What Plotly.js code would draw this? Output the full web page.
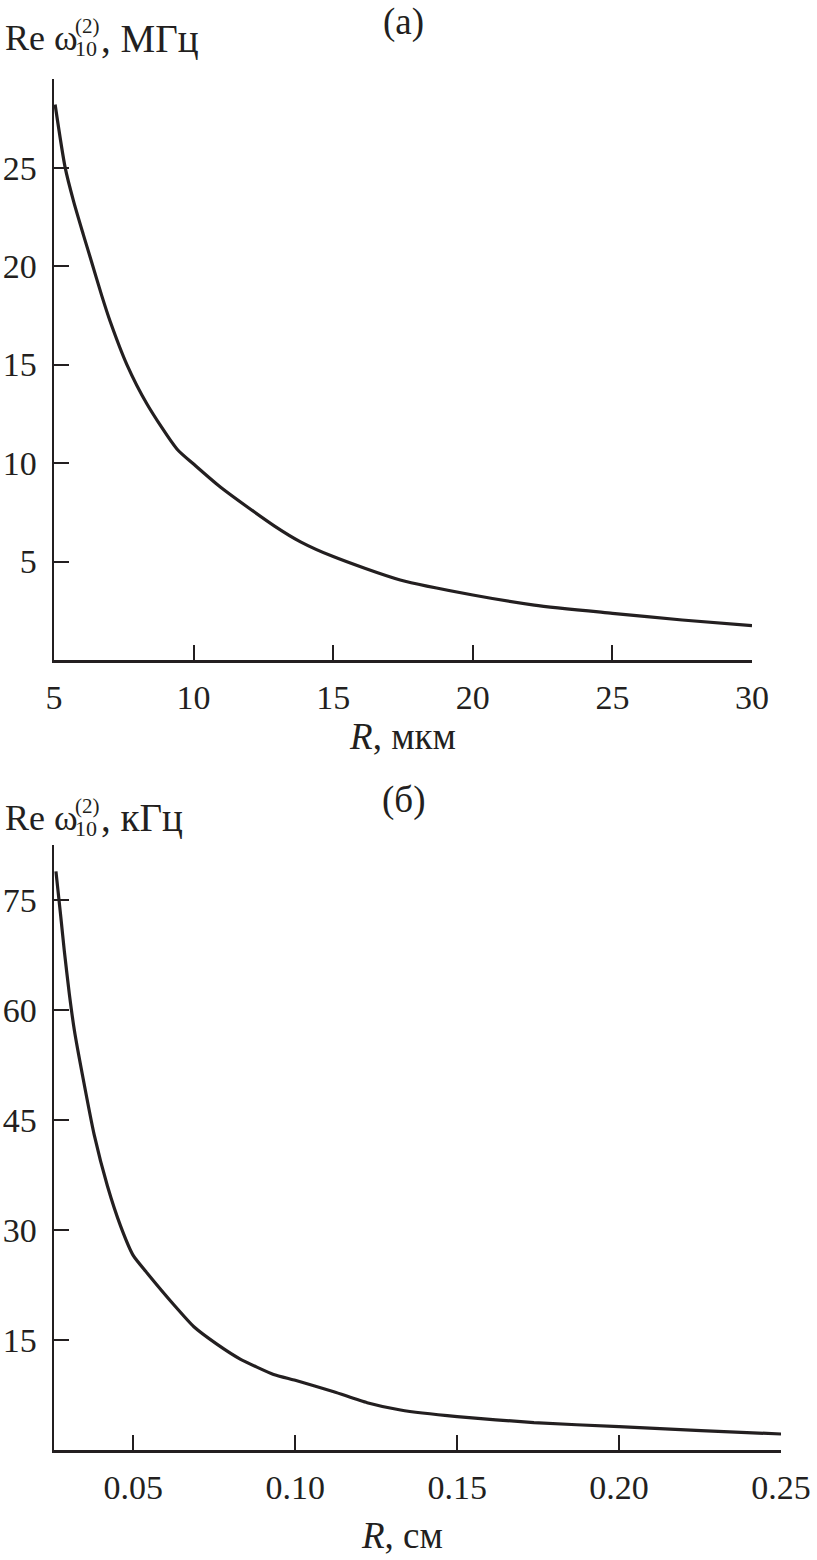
<!DOCTYPE html>
<html>
<head>
<meta charset="utf-8">
<script src="https://cdn.plot.ly/plotly-3.0.1.min.js"></script>
<style>html,body{margin:0;padding:0;background:#fff;}</style>
</head>
<body>
<div id="chart" style="width:817px;height:1560px;"></div>
<script>
// ---- Data ----
// Panel (а): R in μm, Re ω in MHz
const R_um = [5.04, 5.4, 5.7, 6.05, 6.35, 6.71, 7.01, 7.61, 8.33, 9.41, 10.0, 10.98, 12.9, 13.83, 15.0, 17.4, 20.0, 22.2, 25.0, 27.5, 30.0];
const omega_MHz = [28.2, 25.0, 23.3, 21.6, 20.2, 18.5, 17.2, 15.0, 13.0, 10.7, 9.95, 8.76, 6.8, 6.0, 5.25, 4.06, 3.3, 2.79, 2.37, 2.03, 1.74];
// Panel (б): R in cm, Re ω in kHz
const R_cm = [0.0261, 0.0276, 0.0287, 0.0302, 0.0318, 0.0343, 0.0379, 0.0420, 0.0461, 0.0500, 0.0543, 0.0625, 0.0687, 0.0759, 0.0830, 0.0933, 0.1000, 0.1119, 0.1222, 0.1325, 0.1500, 0.1737, 0.2000, 0.2253, 0.2500];
const omega_kHz = [78.9, 72.7, 68.0, 62.3, 57.2, 51.1, 43.0, 36.0, 30.5, 26.5, 24.1, 19.8, 16.8, 14.4, 12.4, 10.3, 9.5, 7.95, 6.45, 5.45, 4.55, 3.73, 3.18, 2.64, 2.18];
// Tick labels
const xTicksA = [5, 10, 15, 20, 25, 30];
const yTicksA = [5, 10, 15, 20, 25];
const xTicksB = [0.05, 0.10, 0.15, 0.20, 0.25];
const xTickTextB = ['0.05', '0.10', '0.15', '0.20', '0.25'];
const yTicksB = [15, 30, 45, 60, 75];

// ---- Layout helpers ----
const FONT = "'Liberation Serif', 'Times New Roman', serif";
const INK = '#231f20';
const ML = 54, MR = 36, MT = 79, MB = 110, W = 817, H = 1560;
const PW = W - ML - MR, PH = H - MT - MB;
const px = x => (x - ML) / PW;
const py = y => (H - MB - y) / PH;

const axisBase = {
  showline: true, linewidth: 2.5, linecolor: INK,
  ticks: 'inside', ticklen: 15, tickwidth: 2, tickcolor: INK,
  showgrid: false, zeroline: false, mirror: false,
  tickfont: {family: FONT, size: 34, color: INK},
  fixedrange: true
};

const traces = [
  {x: R_um, y: omega_MHz, xaxis: 'x', yaxis: 'y', mode: 'lines',
   line: {color: INK, width: 3.2, shape: 'spline', smoothing: 0.7}, hoverinfo: 'skip', showlegend: false},
  {x: R_cm, y: omega_kHz, xaxis: 'x2', yaxis: 'y2', mode: 'lines',
   line: {color: INK, width: 3.2, shape: 'spline', smoothing: 0.5}, hoverinfo: 'skip', showlegend: false}
];

function titleParts(yc, unit) {
  return [
    {text: 'Re ω', x: px(3), y: py(yc), xanchor: 'left', yanchor: 'middle', font: {family: FONT, size: 36, color: INK}},
    {text: '(2)', x: px(73), y: py(yc - 12), xanchor: 'left', yanchor: 'middle', font: {family: FONT, size: 21, color: INK}},
    {text: '10', x: px(73), y: py(yc + 10), xanchor: 'left', yanchor: 'middle', font: {family: FONT, size: 22, color: INK}},
    {text: ', ' + unit, x: px(99), y: py(yc), xanchor: 'left', yanchor: 'middle', font: {family: FONT, size: 39, color: INK}}
  ];
}

const annotations = [
  ...titleParts(38, 'МГц'),
  ...titleParts(818, 'кГц'),
  {text: '(а)', x: px(403), y: py(22), xanchor: 'center', yanchor: 'middle', font: {family: FONT, size: 37, color: INK}},
  {text: '(б)', x: px(403), y: py(800), xanchor: 'center', yanchor: 'middle', font: {family: FONT, size: 37, color: INK}},
  {text: '<i>R</i>, см', x: px(402), y: py(1535), xanchor: 'center', yanchor: 'middle', font: {family: FONT, size: 37, color: INK}}
].map(a => Object.assign({xref: 'paper', yref: 'paper', showarrow: false}, a));

const layout = {
  width: W, height: H,
  margin: {l: ML, r: MR, t: MT, b: MB, pad: 0},
  paper_bgcolor: '#fff', plot_bgcolor: '#fff',
  showlegend: false,
  xaxis: Object.assign({}, axisBase, {
    domain: [0, px(752)], range: [5, 30], anchor: 'y',
    tickvals: xTicksA, ticklabelstandoff: 6,
    title: {text: '<i>R</i>, мкм', font: {family: FONT, size: 37, color: INK}, standoff: 8}
  }),
  yaxis: Object.assign({}, axisBase, {
    domain: [py(660), 1], range: [0, 29.5], anchor: 'x',
    tickvals: yTicksA, ticklabelstandoff: 8
  }),
  xaxis2: Object.assign({}, axisBase, {
    domain: [0, 1], range: [0.0255, 0.25], anchor: 'y2',
    tickvals: xTicksB, ticktext: xTickTextB, ticklabelstandoff: 6
  }),
  yaxis2: Object.assign({}, axisBase, {
    domain: [0, py(845)], range: [0, 82.5], anchor: 'x2',
    tickvals: yTicksB, ticklabelstandoff: 8
  }),
  annotations: annotations
};

Plotly.newPlot('chart', traces, layout, {staticPlot: true, displayModeBar: false});
</script>
</body>
</html>
